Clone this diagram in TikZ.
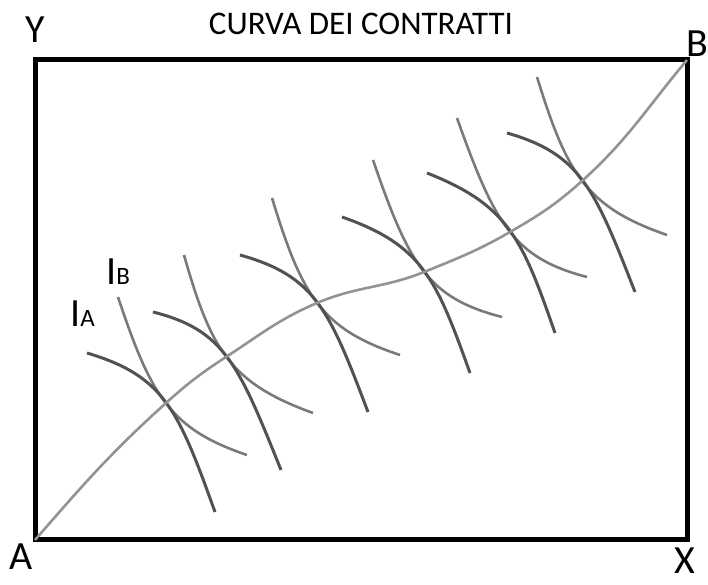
\documentclass[tikz,border=0pt]{standalone}
\usepackage{fontspec}
\setmainfont{Carlito}
\tikzset{
  frame/.style={line width=5pt, black},
  contract/.style={line width=2.6pt, gray!85},
  indA/.style={line width=3pt, black!68},
  indB/.style={line width=2.6pt, black!52},
  lbl/.style={anchor=base, inner sep=0pt, font=\fontsize{40}{40}\selectfont}
}
\begin{document}
\begin{tikzpicture}[x=1pt, y=1pt]
        \useasboundingbox (0,0) rectangle (708,585);
        % Scatola di Edgeworth
        \coordinate (A) at (35,45);
        \coordinate (X) at (687,45);
        \coordinate (B) at (687,525);
        \coordinate (Y) at (35,525);
        \draw[frame] (A) -- (X) -- (B) -- (Y) -- cycle;
        \node[lbl] (lY) at (35,542) {Y};
        \node[lbl] (lB) at (697,528) {B};
        \node[lbl] (lA) at (21,15) {A};
        \node[lbl] (lX) at (685,11) {X};
        \node[anchor=base, inner sep=0pt, font=\fontsize{33}{33}\selectfont] (titolo) at (361,550) {CURVA DEI CONTRATTI};
        % Punti di tangenza
        \coordinate (P1) at (166,182);
        \coordinate (P2) at (226,228);
        \coordinate (P3) at (317,282);
        \coordinate (P4) at (424,313);
        \coordinate (P5) at (510,353);
        \coordinate (P6) at (582,404);
        % Curve di indifferenza di B
        \draw[indB, shift={(P1)}] (-48,106) .. controls (-15,7) and (4,-26) .. (81,-52);
        \draw[indB, shift={(P2)}] (-42,102) .. controls (-15,7) and (4,-26) .. (87,-56);
        \draw[indB, shift={(P3)}] (-45,105) .. controls (-15,7) and (4,-26) .. (83,-52);
        \draw[indB, shift={(P4)}] (-51,112) .. controls (-15,7) and (4,-26) .. (78,-45);
        \draw[indB, shift={(P5)}] (-53,114) .. controls (-15,7) and (4,-26) .. (77,-45);
        \draw[indB, shift={(P6)}] (-45,104) .. controls (-15,7) and (4,-26) .. (85,-54);
        % Curve di indifferenza di A
        \draw[indA, shift={(P1)}] (-79,50) .. controls (-2,27) and (12,-6) .. (49,-109);
        \draw[indA, shift={(P2)}] (-73,45) .. controls (-2,27) and (12,-6) .. (55,-113);
        \draw[indA, shift={(P3)}] (-77,48) .. controls (-2,27) and (12,-6) .. (51,-109);
        \draw[indA, shift={(P4)}] (-82,55) .. controls (-2,27) and (12,-6) .. (46,-101);
        \draw[indA, shift={(P5)}] (-83,59) .. controls (-2,27) and (12,-6) .. (45,-101);
        \draw[indA, shift={(P6)}] (-75,48) .. controls (-2,27) and (12,-6) .. (53,-111);
        % Curva dei contratti
        \draw[contract] (A) to[out=49,in=-138] (P1) to[out=42,in=-147] (P2)
          to[out=33,in=-157] (P3) to[out=23,in=-158] (P4) to[out=22,in=-150] (P5)
          to[out=30,in=-138] (P6) to[out=42,in=-130] (B);
        \node[anchor=base west, inner sep=0pt, font=\fontsize{40}{40}\selectfont] (lIA) at (70,258) {I\fontsize{25}{25}\selectfont A};
        \node[anchor=base west, inner sep=0pt, font=\fontsize{40}{40}\selectfont] (lIB) at (106,300) {I\fontsize{25}{25}\selectfont B};
    \end{tikzpicture}
\end{document}
